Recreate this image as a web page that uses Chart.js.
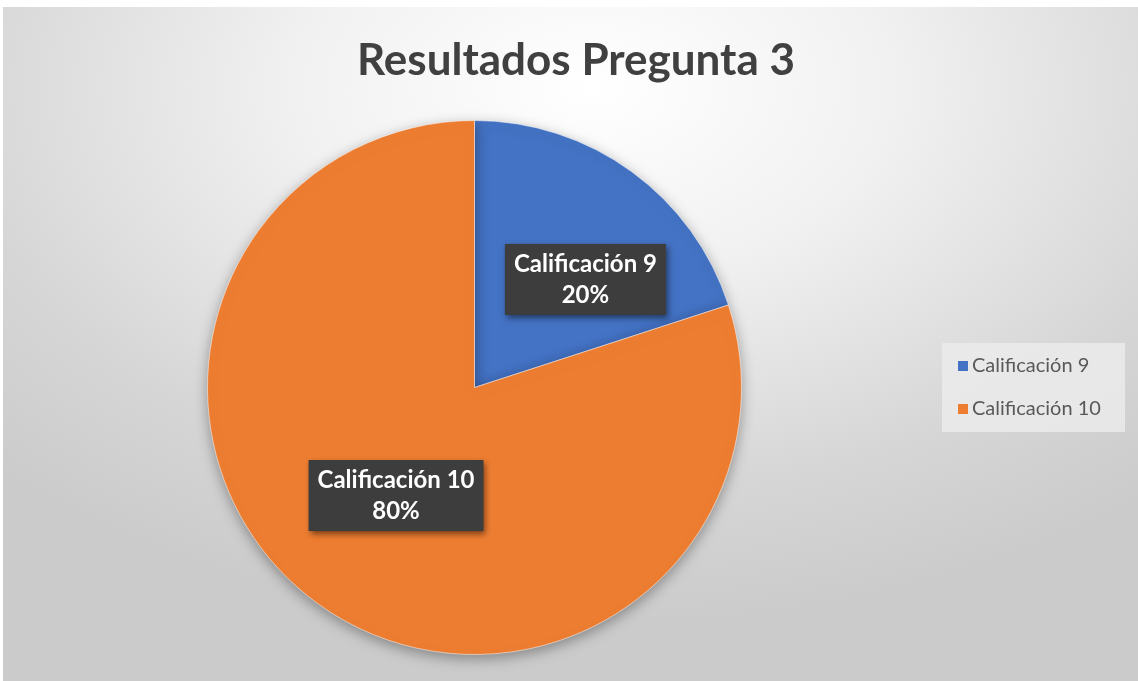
<!DOCTYPE html>
<html>
<head>
<meta charset="utf-8">
<script src="https://cdn.jsdelivr.net/npm/chart.js@4.4.1/dist/chart.umd.min.js"></script>
<style>
    html, body { margin: 0; padding: 0; background: #ffffff; }
    #wrap {
        position: absolute; left: 3px; top: 7px; width: 1135px; height: 674px;
        background: radial-gradient(ellipse 75% 80% at 52% 12%, #ffffff 0%, #f1f1f1 35%, #d6d6d6 75%, #cbcbcb 100%);
    }
</style>
</head>
<body>
<div id="wrap"><canvas id="pieChart"></canvas></div>
<script>
// --------- Données ----------
const chartTitle = "Resultados Pregunta 3";
const categories = ["Calificación 9", "Calificación 10"];
const values = [20, 80];
const sliceColors = ["#4472C4", "#ED7D31"];

const FONT = "Lato, 'Open Sans', sans-serif";

// --------- Titre dessiné à la main (centré sur tout le cadre) ----------
const titlePlugin = {
    id: "titleDraw",
    afterDraw(chart) {
        const ctx = chart.ctx;
        ctx.save();
        ctx.font = "bold 44px " + FONT;
        ctx.fillStyle = "#404040";
        ctx.textAlign = "center";
        ctx.textBaseline = "middle";
        ctx.fillText(chartTitle, 573, 54);
        ctx.restore();
    }
};

// --------- Ombre sous le camembert ----------
const shadowPlugin = {
    id: "pieShadow",
    beforeDatasetsDraw(chart) {
        const ctx = chart.ctx;
        ctx.save();
        ctx.shadowColor = "rgba(0,0,0,0.35)";
        ctx.shadowBlur = 14;
        ctx.shadowOffsetY = 4;
    },
    afterDatasetsDraw(chart) {
        chart.ctx.restore();
    }
};

// --------- Étiquettes (catégorie + pourcentage) ----------
const labelPlugin = {
    id: "sliceLabels",
    afterDatasetsDraw(chart) {
        const ctx = chart.ctx;
        const meta = chart.getDatasetMeta(0);
        const total = values.reduce((a, b) => a + b, 0);
        const tweaks = [{ da: 0.17, f: 0.58 }, { da: 0, f: 0.5 }];
        meta.data.forEach((arc, i) => {
            const p = arc.getProps(["x", "y", "startAngle", "endAngle", "outerRadius"]);
            const a = (p.startAngle + p.endAngle) / 2 + tweaks[i].da;
            const r = p.outerRadius * tweaks[i].f;
            const cx = p.x + Math.cos(a) * r;
            const cy = p.y + Math.sin(a) * r;
            const line1 = categories[i];
            const line2 = Math.round(values[i] / total * 100) + "%";
            ctx.save();
            ctx.font = "bold 24px " + FONT;
            const w = Math.max(ctx.measureText(line1).width, ctx.measureText(line2).width) + 18;
            const h = 71;
            ctx.shadowColor = "rgba(0,0,0,0.5)";
            ctx.shadowBlur = 6;
            ctx.shadowOffsetX = 2;
            ctx.shadowOffsetY = 3;
            ctx.fillStyle = "#3d3d3d";
            ctx.fillRect(cx - w / 2, cy - h / 2, w, h);
            ctx.shadowColor = "transparent";
            ctx.fillStyle = "#ffffff";
            ctx.textAlign = "center";
            ctx.textBaseline = "middle";
            ctx.fillText(line1, cx, cy - 15);
            ctx.fillText(line2, cx, cy + 16);
            ctx.restore();
        });
    }
};

// --------- Légende à droite ----------
const legendPlugin = {
    id: "sideLegend",
    afterDraw(chart) {
        const ctx = chart.ctx;
        ctx.save();
        ctx.fillStyle = "rgba(235,235,235,0.85)";
        ctx.fillRect(939, 336, 183, 89);
        ctx.font = "20px " + FONT;
        ctx.textBaseline = "middle";
        categories.forEach((c, i) => {
            const y = 359 + i * 43;
            ctx.fillStyle = sliceColors[i];
            ctx.fillRect(955, y - 5, 10, 10);
            ctx.fillStyle = "#595959";
            ctx.fillText(c, 969, y);
        });
        ctx.restore();
    }
};

new Chart(document.getElementById("pieChart"), {
    type: "pie",
    data: {
        labels: categories,
        datasets: [{
            data: values,
            backgroundColor: sliceColors,
            borderColor: "rgba(255,255,255,0.5)",
            borderWidth: 1
        }]
    },
    options: {
        responsive: true,
        maintainAspectRatio: false,
        animation: false,
        layout: { padding: { left: 204, right: 396, top: 113, bottom: 26 } },
        plugins: {
            legend: { display: false },
            title: { display: false },
            tooltip: { enabled: false }
        }
    },
    plugins: [shadowPlugin, labelPlugin, legendPlugin, titlePlugin]
});
</script>
</body>
</html>
